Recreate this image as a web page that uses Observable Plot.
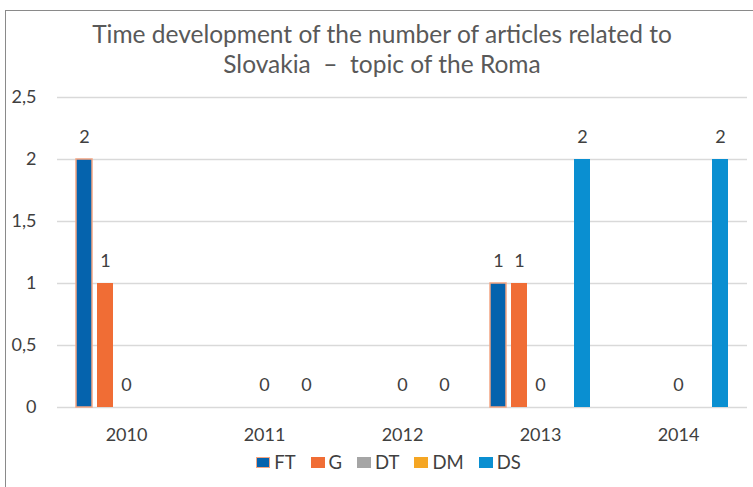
<!DOCTYPE html>
<html>
<head>
<meta charset="utf-8">
<script src="https://cdn.jsdelivr.net/npm/d3@7"></script>
<script src="https://cdn.jsdelivr.net/npm/@observablehq/plot@0.6"></script>
<style>
  html, body { margin: 0; padding: 0; background: #fff; }
  body { width: 753px; height: 487px; position: relative; overflow: hidden; font-family: Lato, "Open Sans", sans-serif; }
  #frame { position: absolute; left: 5px; top: 10px; width: 800px; height: 520px; border-left: 1.5px solid #8a8a8a; border-top: 1.5px solid #8a8a8a; }
  #title { position: absolute; left: 0; top: 19px; width: 764px; text-align: center; font-size: 24.5px; line-height: 30px; color: #595959; }
  #chart { position: absolute; left: 0; top: 80px; }
  #legend { position: absolute; left: 0; top: 451px; width: 777px; display: flex; justify-content: center; font-size: 18.5px; color: #404040; }
  #legend .item { display: flex; align-items: center; margin: 0 7.5px; }
  #legend .sw { display: inline-block; width: 14px; height: 11px; margin-right: 4px; box-sizing: border-box; }
</style>
</head>
<body>
<div id="frame"></div>
<div id="title">Time development of the number of articles related to<br>Slovakia &nbsp;–&nbsp; topic of the Roma</div>
<div id="chart"></div>
<div id="legend"></div>
<script>
const years = ["2010", "2011", "2012", "2013", "2014"];
const series = ["FT", "G", "DT", "DM", "DS"];
const FT = [2, null, null, 1, null];
const G  = [1, null, null, 1, null];
const DT = [0, 0, 0, 0, 0];
const DM = [null, null, null, null, null];
const DS = [null, 0, 0, 2, 2];
const colors = ["#0563ad", "#f06d35", "#a5a5a5", "#f5a623", "#0a8fd1"];
const yTicks = [0, 0.5, 1, 1.5, 2, 2.5];

const valuesBySeries = {FT, G, DT, DM, DS};
const data = [];
years.forEach((yr, i) => {
  series.forEach(s => {
    const v = valuesBySeries[s][i];
    if (v !== null && v !== undefined) data.push({year: yr, series: s, value: v});
  });
});

const fmt = d => String(d).replace(".", ",");

const plot = Plot.plot({
  width: 753,
  height: 370,
  marginLeft: 56,
  marginRight: 5,
  marginTop: 17,
  marginBottom: 43,
  style: {fontFamily: "Lato, 'Open Sans', sans-serif", fontSize: "18px", color: "#404040", background: "transparent"},
  fx: {domain: years, padding: 0, label: null, axis: "bottom", tickSize: 0, tickPadding: 21},
  x: {domain: series, axis: null, paddingInner: 0.26, paddingOuter: 0.83},
  y: {domain: [0, 2.5], ticks: yTicks, tickFormat: fmt, label: null, tickSize: 0, tickPadding: 21, grid: false},
  color: {domain: series, range: colors},
  marks: [
    Plot.ruleY(yTicks, {stroke: "#d9d9d9", strokeWidth: 1.5}),
    Plot.barY(data, {fx: "year", x: "series", y: "value", fill: "series",
      stroke: d => d.series === "FT" ? "#f4a582" : "none", strokeWidth: 1.5}),
    Plot.text(data, {fx: "year", x: "series", y: "value", text: d => fmt(d.value), dy: -22,
      fill: "#404040", fontSize: 18})
  ]
});
plot.querySelectorAll('[aria-label="fx-axis tick label"] text, [aria-label="y-axis tick label"] text').forEach(t => t.setAttribute("fill", "#404040"));
document.getElementById("chart").appendChild(plot);

const legend = document.getElementById("legend");
series.forEach((s, i) => {
  const item = document.createElement("span");
  item.className = "item";
  const sw = document.createElement("span");
  sw.className = "sw";
  sw.style.background = colors[i];
  if (s === "FT") sw.style.border = "1.5px solid #f4a582";
  item.appendChild(sw);
  item.appendChild(document.createTextNode(s));
  legend.appendChild(item);
});
</script>
</body>
</html>
